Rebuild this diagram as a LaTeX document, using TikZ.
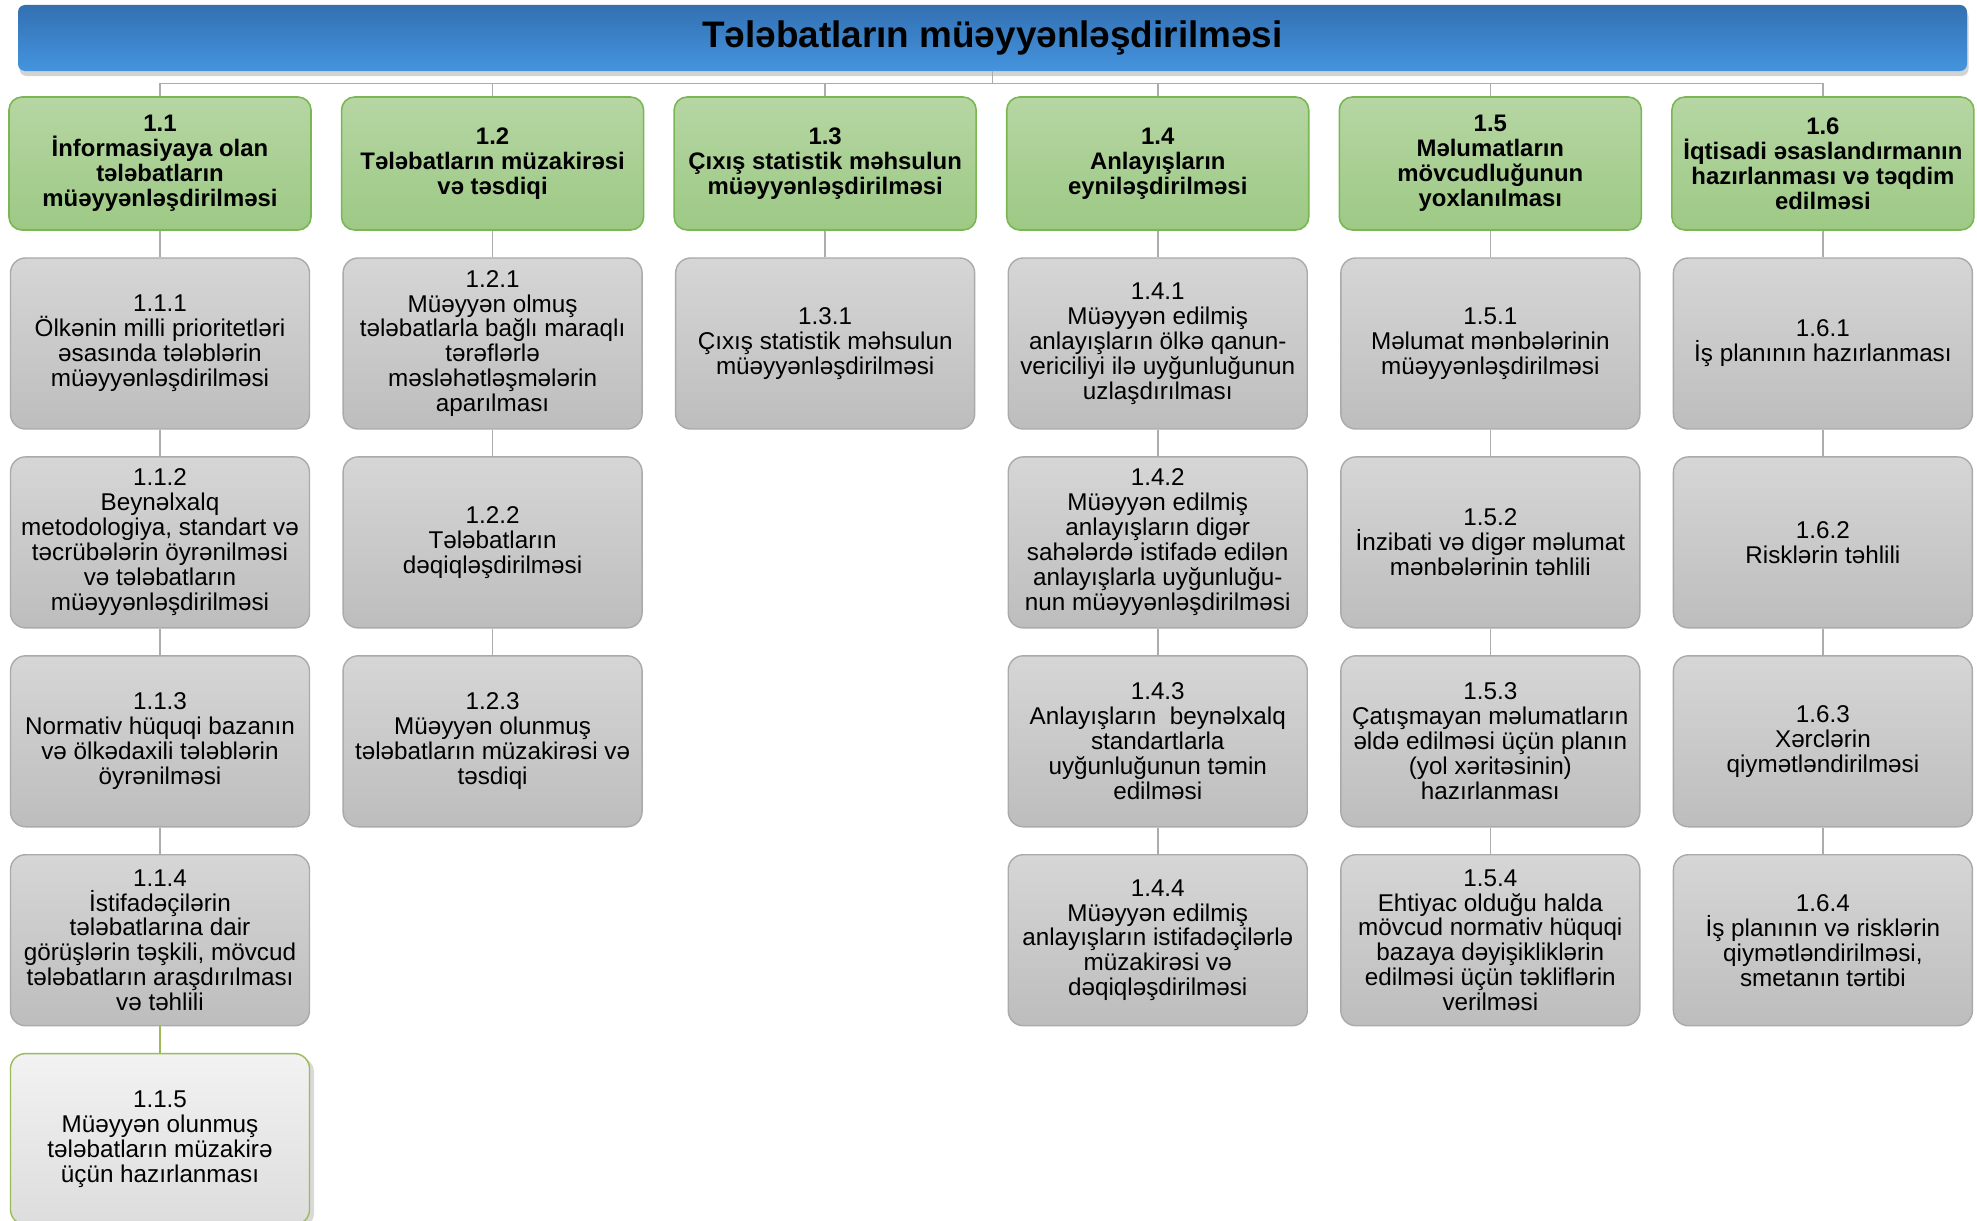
\documentclass[tikz,border=0pt]{standalone}
\usepackage{fontspec}
\setmainfont{Liberation Sans}
\usepackage{tikz}
\usetikzlibrary{positioning, shadows, calc}

\definecolor{bartop}{HTML}{3370B2}
\definecolor{barbottom}{HTML}{4494DE}
\definecolor{headtop}{HTML}{B6D6A3}
\definecolor{headbottom}{HTML}{9DC985}
\definecolor{headline}{HTML}{7AB652}
\definecolor{tasktop}{HTML}{D6D6D6}
\definecolor{taskbottom}{HTML}{BDBDBD}
\definecolor{taskline}{HTML}{AAAAAA}
\definecolor{olive}{HTML}{9BBB59}

\begin{document}
\begin{tikzpicture}[
        titlebar/.style={rectangle, rounded corners=0.14cm, minimum width=38.98cm, minimum height=1.32cm, top color=bartop, bottom color=barbottom, draw=none, font=\fontsize{21}{24}\selectfont\bfseries, drop shadow={shadow xshift=0.03cm, shadow yshift=-0.1cm, opacity=0.35}},
        head/.style={draw=headline, line width=0.9pt, rectangle, rounded corners=0.26cm, minimum width=6.04cm, minimum height=2.66cm, align=center, inner sep=1mm, top color=headtop, bottom color=headbottom, font=\fontsize{13.6}{14.2}\selectfont\bfseries},
        task/.style={draw=taskline, line width=0.8pt, rectangle, rounded corners=0.3cm, minimum width=5.98cm, minimum height=3.42cm, align=center, inner sep=1mm, top color=tasktop, bottom color=taskbottom, font=\fontsize{13.8}{14.2}\selectfont},
        lasttask/.style={task, draw=olive, top color=gray!10, bottom color=gray!27, drop shadow={shadow xshift=0.09cm, shadow yshift=-0.07cm, opacity=0.3}},
        link/.style={draw=gray!65, line width=0.85pt},
        node distance=0.53cm
      ]

      \useasboundingbox (0,0) rectangle (39.54,-24.42);

      \node[titlebar] (title) at (19.85,-0.76) {Tələbatların müəyyənləşdirilməsi};

      % level 1
      \node[head] (info) at (3.2,-3.27) {1.1\\İnformasiyaya olan\\tələbatların\\müəyyənləşdirilməsi};
      \node[head, right=0.58cm of info] (discuss) {1.2\\Tələbatların müzakirəsi\\və təsdiqi};
      \node[head, right=0.58cm of discuss] (output) {1.3\\Çıxış statistik məhsulun\\müəyyənləşdirilməsi};
      \node[head, right=0.58cm of output] (concepts) {1.4\\Anlayışların\\eyniləşdirilməsi};
      \node[head, right=0.58cm of concepts] (sources) {1.5\\Məlumatların\\mövcudluğunun\\yoxlanılması};
      \node[head, right=0.58cm of sources] (econ) {1.6\\İqtisadi əsaslandırmanın\\hazırlanması və təqdim\\edilməsi};

      % 1.1 tasks
      \node[task, below=of info] (info1) {1.1.1\\Ölkənin milli prioritetləri\\əsasında tələblərin\\müəyyənləşdirilməsi};
      \node[task, below=of info1] (info2) {1.1.2\\Beynəlxalq\\metodologiya, standart və\\təcrübələrin öyrənilməsi\\və tələbatların\\müəyyənləşdirilməsi};
      \node[task, below=of info2] (info3) {1.1.3\\Normativ hüquqi bazanın\\və ölkədaxili tələblərin\\öyrənilməsi};
      \node[task, below=of info3] (info4) {1.1.4\\İstifadəçilərin\\tələbatlarına dair\\görüşlərin təşkili, mövcud\\tələbatların araşdırılması\\və təhlili};
      \node[lasttask, below=of info4] (info5) {1.1.5\\Müəyyən olunmuş\\tələbatların müzakirə\\üçün hazırlanması};

      % 1.2 tasks
      \node[task, below=of discuss] (discuss1) {1.2.1\\Müəyyən olmuş\\tələbatlarla bağlı maraqlı\\tərəflərlə\\məsləhətləşmələrin\\aparılması};
      \node[task, below=of discuss1] (discuss2) {1.2.2\\Tələbatların\\dəqiqləşdirilməsi};
      \node[task, below=of discuss2] (discuss3) {1.2.3\\Müəyyən olunmuş\\tələbatların müzakirəsi və\\təsdiqi};

      % 1.3 tasks
      \node[task, below=of output] (output1) {1.3.1\\Çıxış statistik məhsulun\\müəyyənləşdirilməsi};

      % 1.4 tasks
      \node[task, below=of concepts] (concepts1) {1.4.1\\Müəyyən edilmiş\\anlayışların ölkə qanun-\\vericiliyi ilə uyğunluğunun\\uzlaşdırılması};
      \node[task, below=of concepts1] (concepts2) {1.4.2\\Müəyyən edilmiş\\anlayışların digər\\sahələrdə istifadə edilən\\anlayışlarla uyğunluğu-\\nun müəyyənləşdirilməsi};
      \node[task, below=of concepts2] (concepts3) {1.4.3\\Anlayışların\ \ beynəlxalq\\standartlarla\\uyğunluğunun təmin\\edilməsi};
      \node[task, below=of concepts3] (concepts4) {1.4.4\\Müəyyən edilmiş\\anlayışların istifadəçilərlə\\müzakirəsi və\\dəqiqləşdirilməsi};

      % 1.5 tasks
      \node[task, below=of sources] (sources1) {1.5.1\\Məlumat mənbələrinin\\müəyyənləşdirilməsi};
      \node[task, below=of sources1] (sources2) {1.5.2\\İnzibati və digər məlumat\\mənbələrinin təhlili};
      \node[task, below=of sources2] (sources3) {1.5.3\\Çatışmayan məlumatların\\əldə edilməsi üçün planın\\(yol xəritəsinin)\\hazırlanması};
      \node[task, below=of sources3] (sources4) {1.5.4\\Ehtiyac olduğu halda\\mövcud normativ hüquqi\\bazaya dəyişikliklərin\\edilməsi üçün təkliflərin\\verilməsi};

      % 1.6 tasks
      \node[task, below=of econ] (econ1) {1.6.1\\İş planının hazırlanması};
      \node[task, below=of econ1] (econ2) {1.6.2\\Risklərin təhlili};
      \node[task, below=of econ2] (econ3) {1.6.3\\Xərclərin\\qiymətləndirilməsi};
      \node[task, below=of econ3] (econ4) {1.6.4\\İş planının və risklərin\\qiymətləndirilməsi,\\smetanın tərtibi};

      % edges
      \coordinate (bus) at ($(title.south)+(0,-0.24)$);
      \draw[link] (title.south) -- (bus);
      \draw[link] (bus) -| (info.north);
      \draw[link] (bus) -| (discuss.north);
      \draw[link] (bus) -| (output.north);
      \draw[link] (bus) -| (concepts.north);
      \draw[link] (bus) -| (sources.north);
      \draw[link] (bus) -| (econ.north);

      \draw[link] (info) -- (info1);
      \draw[link] (info1) -- (info2);
      \draw[link] (info2) -- (info3);
      \draw[link] (info3) -- (info4);
      \draw[link, draw=olive] (info4) -- (info5);
      \draw[link] (discuss) -- (discuss1);
      \draw[link] (discuss1) -- (discuss2);
      \draw[link] (discuss2) -- (discuss3);
      \draw[link] (output) -- (output1);
      \draw[link] (concepts) -- (concepts1);
      \draw[link] (concepts1) -- (concepts2);
      \draw[link] (concepts2) -- (concepts3);
      \draw[link] (concepts3) -- (concepts4);
      \draw[link] (sources) -- (sources1);
      \draw[link] (sources1) -- (sources2);
      \draw[link] (sources2) -- (sources3);
      \draw[link] (sources3) -- (sources4);
      \draw[link] (econ) -- (econ1);
      \draw[link] (econ1) -- (econ2);
      \draw[link] (econ2) -- (econ3);
      \draw[link] (econ3) -- (econ4);

      \end{tikzpicture}
\end{document}
